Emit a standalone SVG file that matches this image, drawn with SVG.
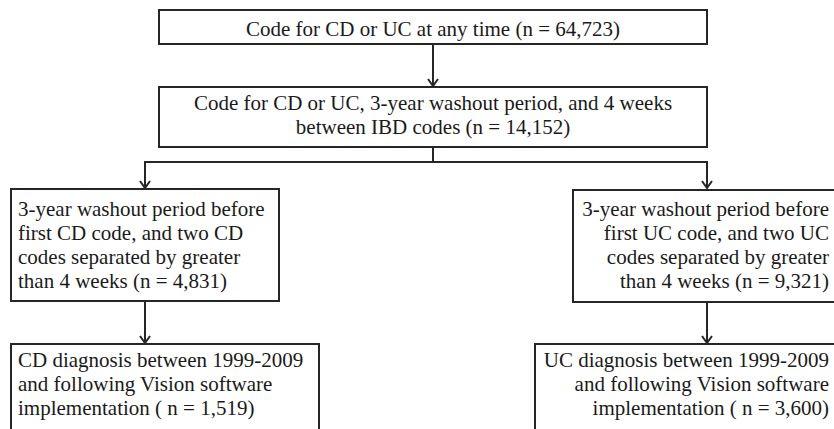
<svg xmlns="http://www.w3.org/2000/svg" width="834" height="429" viewBox="0 0 834 429">
<style>
.box{fill:#fff;stroke:#262626;stroke-width:2}
.t{font-family:"Liberation Serif","Times New Roman",serif;font-size:21px;fill:#1a1a1a}
.c{text-anchor:middle}
.r{text-anchor:end}
.con{fill:none;stroke:#262626;stroke-width:2}
</style>
<defs>
<marker id="ah" markerWidth="12" markerHeight="12" refX="10" refY="6" orient="auto" markerUnits="userSpaceOnUse" viewBox="0 0 12 12">
<path d="M3,1 L10,6 L3,11" fill="none" stroke="#262626" stroke-width="2"/>
</marker>
</defs>
<rect width="834" height="429" fill="#fff"/>
<g id="connectors">
<path class="con" d="M433,44 V86" marker-end="url(#ah)"/>
<path class="con" d="M433,147 V162 M145,162 H707"/>
<path class="con" d="M145,161 V188" marker-end="url(#ah)"/>
<path class="con" d="M707,161 V188" marker-end="url(#ah)"/>
<path class="con" d="M145,301 V343" marker-end="url(#ah)"/>
<path class="con" d="M707,302 V343" marker-end="url(#ah)"/>
</g>
<g id="n1">
<rect class="box" x="159" y="10" width="548" height="34"/>
<text class="t c" x="433" y="36">Code for CD or UC at any time (n = 64,723)</text>
</g>
<g id="n2">
<rect class="box" x="159" y="87" width="548" height="60"/>
<text class="t c" x="433" y="110">Code for CD or UC, 3-year washout period, and 4 weeks</text>
<text class="t c" x="433" y="134">between IBD codes (n = 14,152)</text>
</g>
<g id="n3">
<rect class="box" x="11" y="189" width="268" height="112"/>
<text class="t" x="18" y="216">3-year washout period before</text>
<text class="t" x="18" y="240">first CD code, and two CD</text>
<text class="t" x="18" y="264">codes separated by greater</text>
<text class="t" x="18" y="288">than 4 weeks (n = 4,831)</text>
</g>
<g id="n4">
<rect class="box" x="573" y="190" width="268" height="112"/>
<text class="t r" x="829" y="216">3-year washout period before</text>
<text class="t r" x="829" y="240">first UC code, and two UC</text>
<text class="t r" x="829" y="264">codes separated by greater</text>
<text class="t r" x="829" y="288">than 4 weeks (n = 9,321)</text>
</g>
<g id="n5">
<rect class="box" x="11" y="344" width="308" height="100"/>
<text class="t" x="18" y="367">CD diagnosis between 1999-2009</text>
<text class="t" x="18" y="391">and following Vision software</text>
<text class="t" x="18" y="415">implementation ( n = 1,519)</text>
</g>
<g id="n6">
<rect class="box" x="535" y="344" width="308" height="100"/>
<text class="t r" x="829" y="367">UC diagnosis between 1999-2009</text>
<text class="t r" x="829" y="391">and following Vision software</text>
<text class="t r" x="829" y="415">implementation ( n = 3,600)</text>
</g>
</svg>
